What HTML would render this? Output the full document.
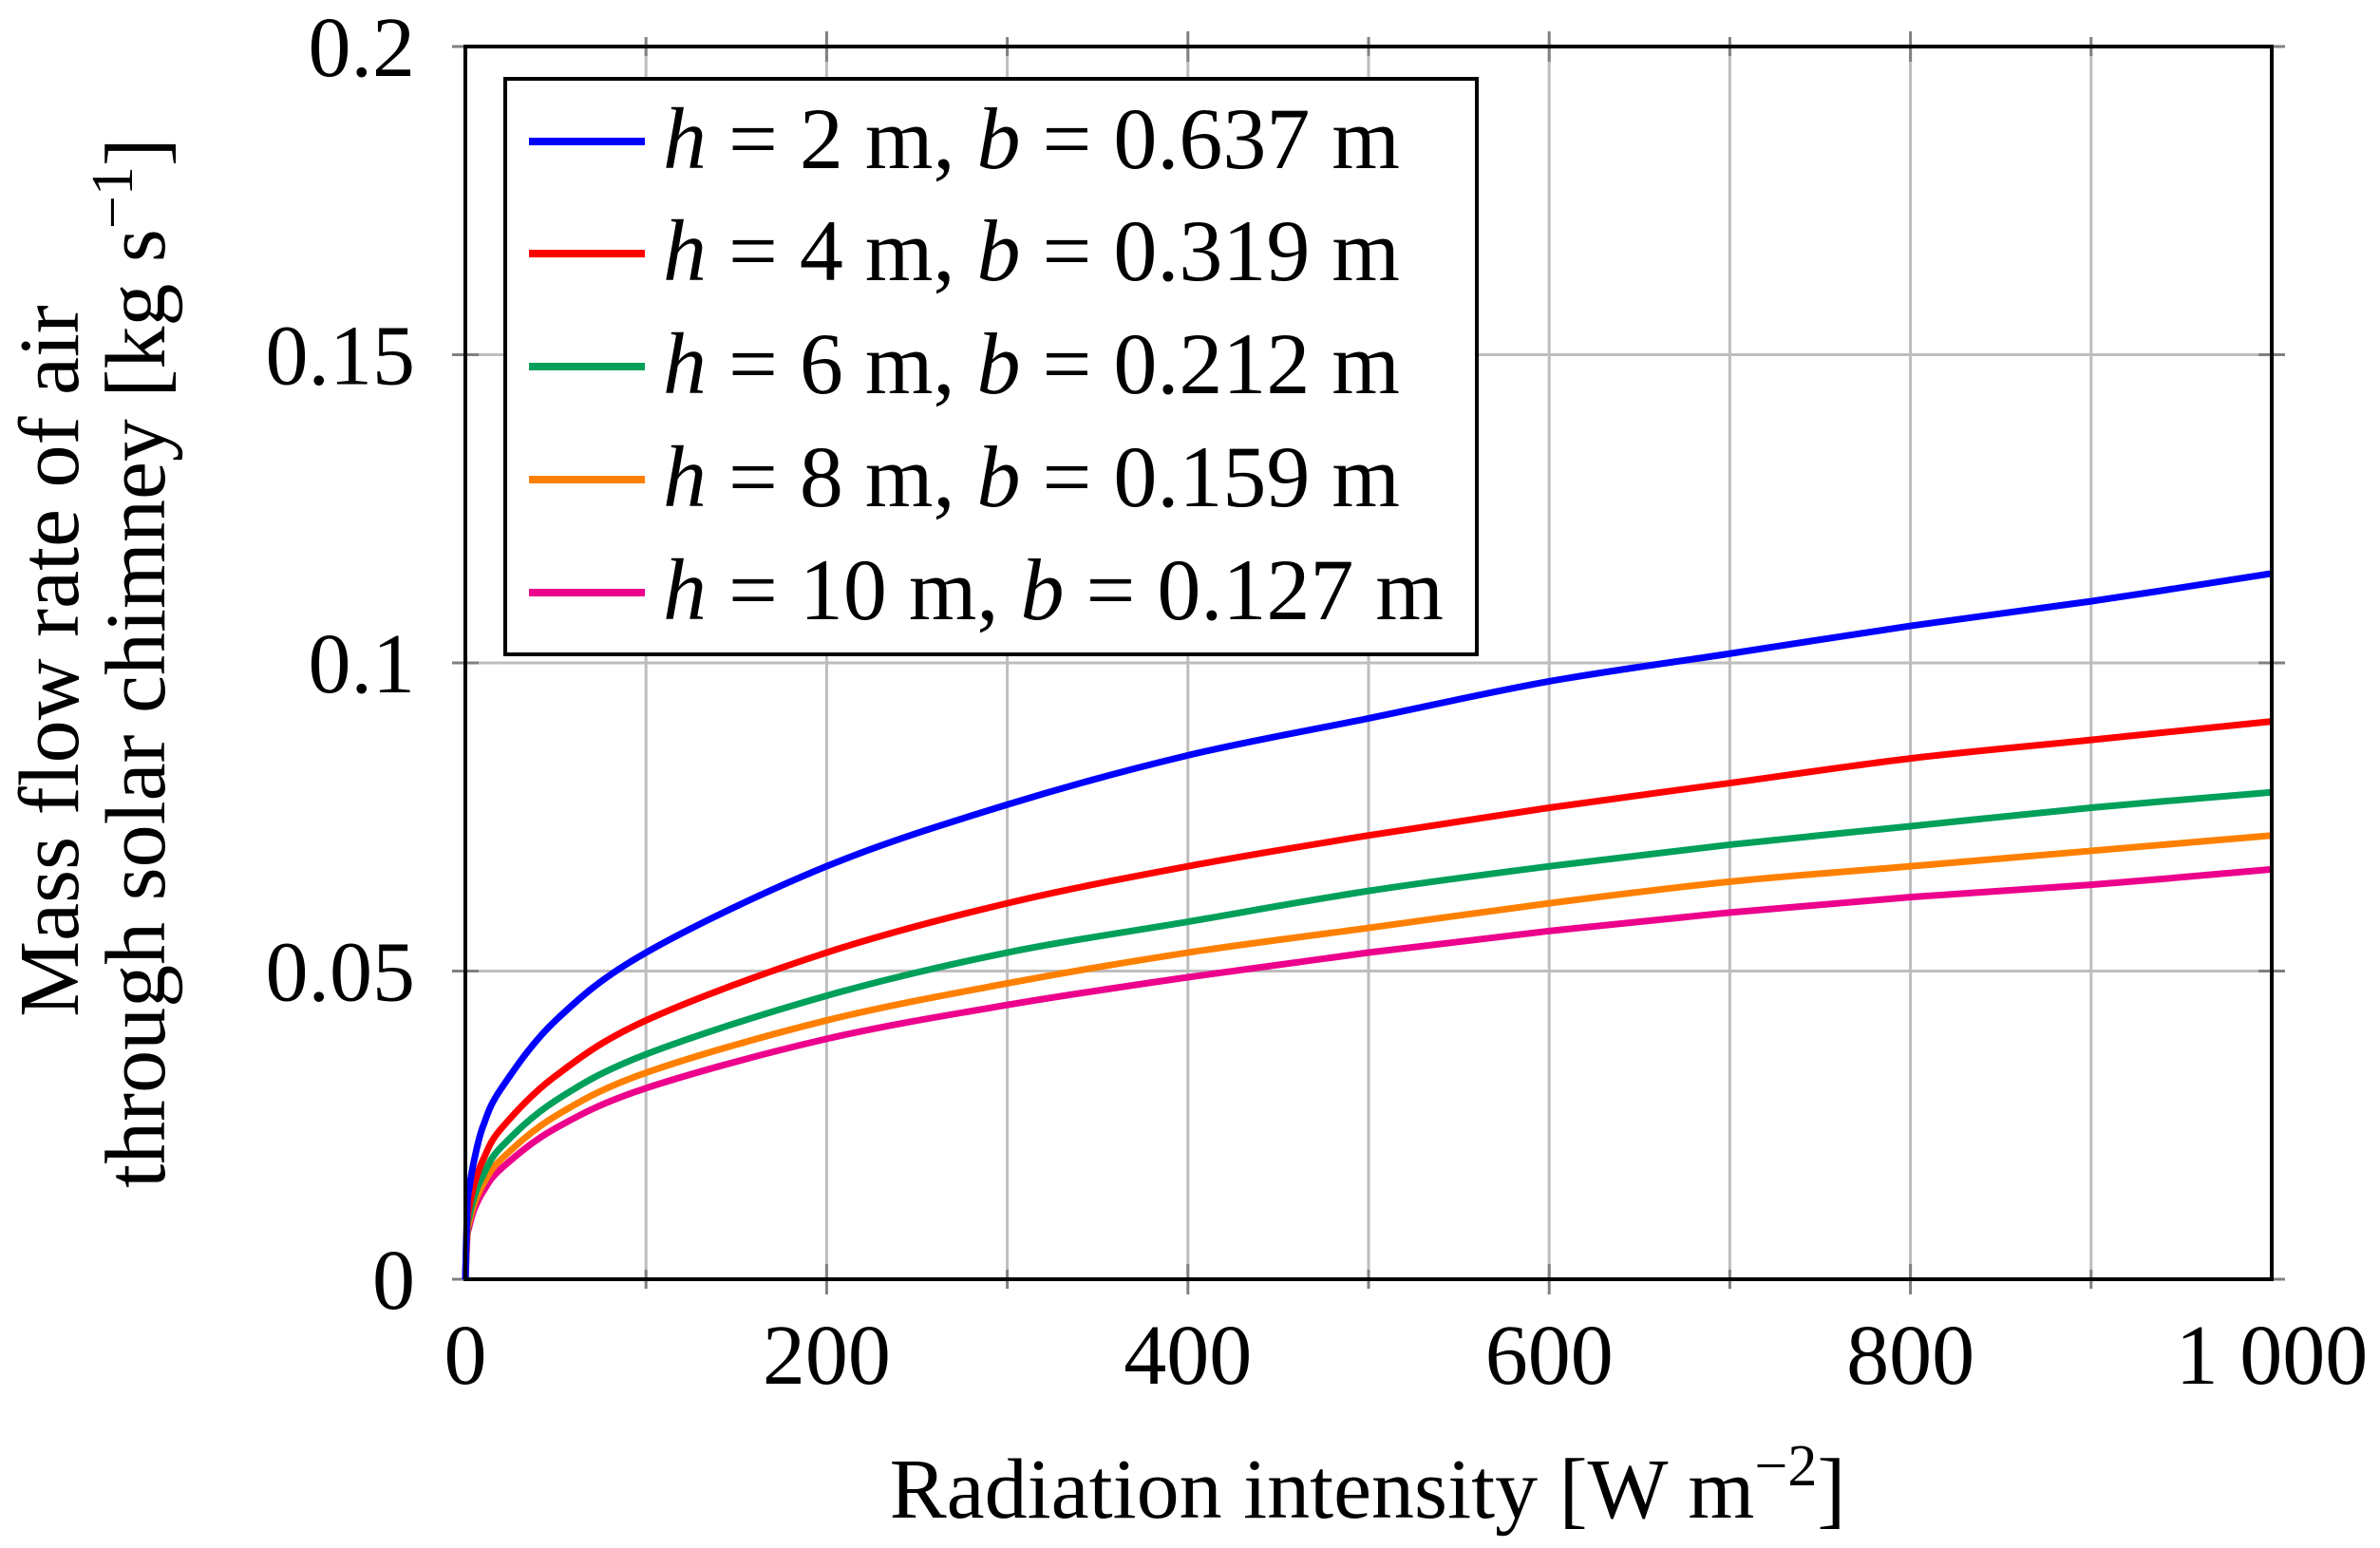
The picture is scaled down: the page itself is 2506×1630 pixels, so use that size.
<!DOCTYPE html>
<html><head><meta charset="utf-8"><style>
html,body{margin:0;padding:0;background:#fff}
svg{display:block}
text{font-family:"Liberation Serif","DejaVu Serif",serif;fill:#000}
</style></head><body>
<svg id="chart" width="2506" height="1630" viewBox="0 0 2506 1630" xmlns="http://www.w3.org/2000/svg">
<g id="grid"></g>
<g id="ticks"></g>
<g id="series"></g>
<rect x="490" y="49" width="1902" height="1298" fill="none" stroke="#000" stroke-width="4"/>
<g id="labels" font-size="90"></g>
<text x="1440" y="1598" font-size="90" text-anchor="middle">Radiation intensity [W m<tspan dy="-34" font-size="62">−2</tspan><tspan dy="34">]</tspan></text>
<g font-size="90" text-anchor="middle">
<text transform="translate(82,696) rotate(-90)">Mass flow rate of air</text>
<text transform="translate(173,698) rotate(-90)">through solar chimney [kg s<tspan dy="-34" font-size="62">−1</tspan><tspan dy="34">]</tspan></text>
</g>
<g id="legend">
<rect x="532" y="83" width="1023" height="606" fill="#fff" stroke="#000" stroke-width="4"/>
</g>
</svg>
<script>
const xValues=[0,1,2,5,10,20,50,100,200,300,400,500,600,700,800,900,1000];
const blueValues=[0,0.0115,0.0145,0.0195,0.025,0.031,0.042,0.053,0.067,0.077,0.085,0.091,0.097,0.1015,0.106,0.110,0.1145];
const redValues=[0,0.009,0.0115,0.0155,0.0195,0.0245,0.033,0.042,0.053,0.061,0.067,0.072,0.0765,0.0805,0.0845,0.0875,0.0905];
const greenValues=[0,0.008,0.010,0.0135,0.017,0.0215,0.029,0.0365,0.046,0.053,0.058,0.063,0.067,0.0705,0.0735,0.0765,0.079];
const orangeValues=[0,0.0072,0.0091,0.0123,0.0155,0.0195,0.0265,0.0335,0.042,0.048,0.053,0.057,0.061,0.0645,0.067,0.0695,0.072];
const pinkValues=[0,0.0067,0.0084,0.0114,0.0143,0.018,0.0245,0.031,0.039,0.0445,0.049,0.053,0.0565,0.0595,0.062,0.064,0.0665];
const seriesNames=["h = 2 m, b = 0.637 m","h = 4 m, b = 0.319 m","h = 6 m, b = 0.212 m","h = 8 m, b = 0.159 m","h = 10 m, b = 0.127 m"];
const xTickLabels=["0","200","400","600","800","1 000"];
const xTickValues=[0,200,400,600,800,1000];
const yTickLabels=["0","0.05","0.1","0.15","0.2"];
const yTickValues=[0,0.05,0.1,0.15,0.2];
const xGridValues=[100,200,300,400,500,600,700,800,900];
const NS="http://www.w3.org/2000/svg";
const L=490,R=2392,T=49,B=1347;
const xs=v=>L+(v/1000)*(R-L);
const ys=v=>B-(v/0.2)*(B-T);
function mk(tag,attrs,parent){const e=document.createElementNS(NS,tag);for(const k in attrs)e.setAttribute(k,attrs[k]);parent.appendChild(e);return e;}
const grid=document.getElementById('grid'),ticks=document.getElementById('ticks'),labels=document.getElementById('labels'),series=document.getElementById('series'),legend=document.getElementById('legend');
xGridValues.forEach(v=>{
 const g=mk('line',{x1:xs(v),x2:xs(v),y1:T,y2:B,stroke:'#bdbdbd','stroke-width':3},grid);
 
 
 const major=xTickValues.includes(v);const len=major?16:10;
 const t1=mk('line',{x1:xs(v),x2:xs(v),y1:B-len,y2:B+len,stroke:'#808080','stroke-width':3},ticks);
 
 
 const t2=mk('line',{x1:xs(v),x2:xs(v),y1:T-len,y2:T+len,stroke:'#808080','stroke-width':3},ticks);
 
 
});
yTickValues.forEach(v=>{
 if(v>0&&v<0.2){const g=mk('line',{x1:L,x2:R,y1:ys(v),y2:ys(v),stroke:'#bdbdbd','stroke-width':3},grid);
 
 }
 const t=mk('line',{x1:L-14,x2:L+14,y1:ys(v),y2:ys(v),stroke:'#808080','stroke-width':3},ticks);
 
 
 const t2=mk('line',{x1:R-14,x2:R+14,y1:ys(v),y2:ys(v),stroke:'#808080','stroke-width':3},ticks);
 
 
});
xTickValues.forEach((v,i)=>{
 const t=mk('text',{x:xs(v),y:1457,'text-anchor':'middle'},labels);t.textContent=xTickLabels[i];
 
 
});
yTickValues.forEach((v,i)=>{
 const t=mk('text',{x:437,y:ys(v)+31,'text-anchor':'end'},labels);t.textContent=yTickLabels[i];
 
 
});
const all=[blueValues,redValues,greenValues,orangeValues,pinkValues];
const colors=['#0000ff','#ff0000','#00a05a','#ff8000','#ec008c'];
const keys=['blue','red','green','orange','pink'];
function smooth(pts){let d='M'+pts[0][0]+','+pts[0][1];for(let i=0;i<pts.length-1;i++){const p0=pts[Math.max(0,i-1)],p1=pts[i],p2=pts[i+1],p3=pts[Math.min(pts.length-1,i+2)];const c1=[p1[0]+(p2[0]-p0[0])/6,p1[1]+(p2[1]-p0[1])/6],c2=[p2[0]-(p3[0]-p1[0])/6,p2[1]-(p3[1]-p1[1])/6];d+=' C'+c1[0]+','+c1[1]+' '+c2[0]+','+c2[1]+' '+p2[0]+','+p2[1];}return d;}
all.slice().reverse().forEach((vals,ri)=>{
 const i=all.length-1-ri;
 const pts=xValues.map((x,j)=>[xs(x),ys(vals[j])]);
 const p=mk('path',{d:smooth(pts),fill:'none',stroke:colors[i],'stroke-width':7,'stroke-linejoin':'round'},series);
 
 
});
const rowY=[149,267,386,505,624];
seriesNames.forEach((name,i)=>{
 const l=mk('line',{x1:557,x2:679,y1:rowY[i],y2:rowY[i],stroke:colors[i],'stroke-width':8},legend);
 
 
 const t=mk('text',{x:698,y:rowY[i]+28,'font-size':92},legend);
 
 
 const parts=name.split(', ');
 const hpart=parts[0].slice(1),bpart=parts[1].slice(1);
 const s1=mk('tspan',{'font-style':'italic'},t);s1.textContent='h';
 const s2=mk('tspan',{},t);s2.textContent=hpart+', ';
 const s3=mk('tspan',{'font-style':'italic'},t);s3.textContent='b';
 const s4=mk('tspan',{},t);s4.textContent=bpart;
});
</script>
</body></html>
